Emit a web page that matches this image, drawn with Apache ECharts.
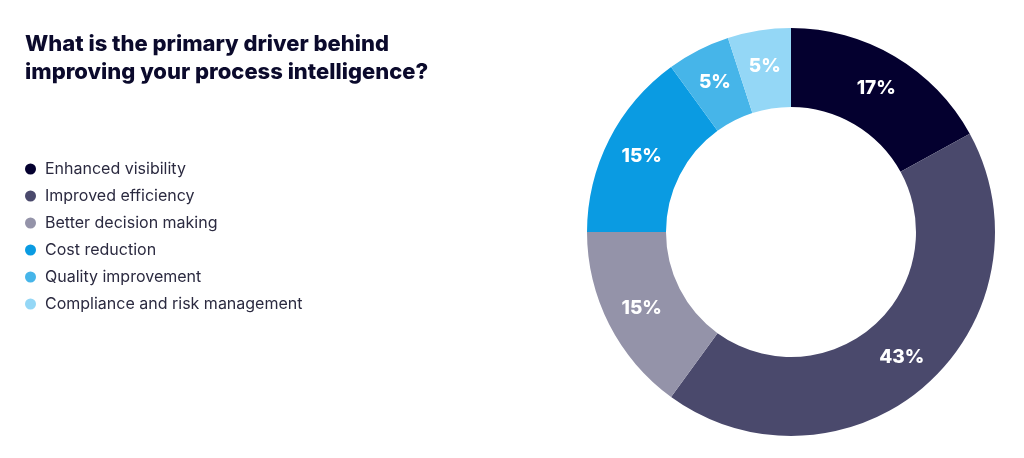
<!DOCTYPE html>
<html><head><meta charset="utf-8">
<script src="https://cdn.jsdelivr.net/npm/echarts@6/dist/echarts.min.js"></script>
<style>html,body{margin:0;padding:0;background:#fff}#c{width:1024px;height:458px}</style>
</head><body><div id="c"></div>
<script>
const categories = ["Enhanced visibility","Improved efficiency","Better decision making","Cost reduction","Quality improvement","Compliance and risk management"];
const values = [17, 43, 15, 15, 5, 5];
const colors = ["#04002f","#4a496c","#9493a9","#0a9be2","#46b5e9","#94d7f6"];
const titleText = "What is the primary driver behind\nimproving your process intelligence?";

const chart = echarts.init(document.getElementById('c'));
chart.setOption({
  animation: false,
  title: {
    text: titleText, left: 20, top: 25,
    textStyle: { fontFamily: 'Inter', fontWeight: 800, fontSize: 22, color: '#0b0a2c', lineHeight: 28 }
  },
  legend: {
    orient: 'vertical', left: 20, top: 156, icon: 'circle',
    itemWidth: 11, itemHeight: 11, itemGap: 11,
    textStyle: { fontFamily: 'Inter', fontSize: 16, color: '#2b2a40', padding: [0,0,0,4] },
    data: categories
  },
  series: [{
    type: 'pie', center: [791, 232], radius: [125, 204], startAngle: 90, clockwise: true,
    color: colors,
    label: { show: true, position: 'inside', formatter: '{c}%', color: '#fff', fontFamily: 'Inter', fontWeight: 800, fontSize: 19 },
    labelLine: { show: false },
    emphasis: { disabled: true },
    data: categories.map((n, i) => ({ name: n, value: values[i] }))
  }]
});
</script></body></html>
